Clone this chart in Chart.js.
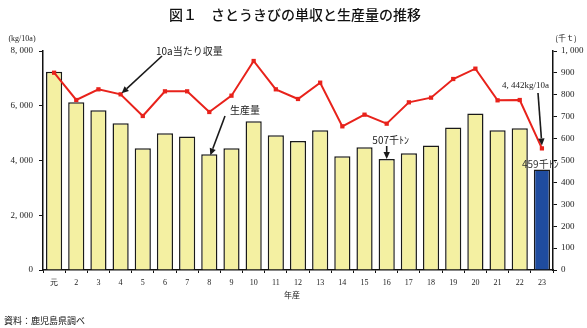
<!DOCTYPE html>
<html lang="ja">
<head>
<meta charset="utf-8">
<script src="https://cdn.jsdelivr.net/npm/chart.js@4/dist/chart.umd.min.js"></script>
<style>
  html, body { margin: 0; padding: 0; background: #ffffff; }
  #wrap { width: 587px; height: 328px; position: relative; }
</style>
</head>
<body>
<div id="wrap"><canvas id="c" width="587" height="328"></canvas></div>
<script>
// 年産（平成元年～23年）
const years = ['元','2','3','4','5','6','7','8','9','10','11','12','13','14','15','16','17','18','19','20','21','22','23'];
// 生産量（千t）
const production = [905, 766, 729, 670, 556, 624, 610, 528, 556, 679, 615, 589, 638, 519, 560, 507, 533, 569, 651, 715, 638, 647, 459];
// 10a当たり収量（kg/10a）
const yieldPer10a = [7207, 6210, 6600, 6417, 5626, 6527, 6527, 5772, 6368, 7635, 6600, 6247, 6843, 5248, 5674, 5345, 6125, 6295, 6977, 7355, 6198, 6210, 4442];

const barFill = production.map((v, i) => i === production.length - 1 ? '#1f4c9f' : '#f4f0a2');

const SERIF = '"Liberation Serif", "DejaVu Serif", serif';
const JP = '"Noto Sans CJK JP", "Noto Sans", sans-serif';

function fmt(v) {
  const s = Math.round(v).toString();
  return s.length > 3 ? s.slice(0, s.length - 3) + ', ' + s.slice(-3) : s;
}

function arrow(ctx, x1, y1, x2, y2) {
  const ang = Math.atan2(y2 - y1, x2 - x1);
  const head = 7, hw = 3.2;
  const bx = x2 - head * Math.cos(ang), by = y2 - head * Math.sin(ang);
  ctx.save();
  ctx.strokeStyle = '#1a1a1a';
  ctx.fillStyle = '#1a1a1a';
  ctx.lineWidth = 1.6;
  ctx.beginPath();
  ctx.moveTo(x1, y1);
  ctx.lineTo(bx, by);
  ctx.stroke();
  ctx.beginPath();
  ctx.moveTo(x2, y2);
  ctx.lineTo(bx + hw * Math.sin(ang), by - hw * Math.cos(ang));
  ctx.lineTo(bx - hw * Math.sin(ang), by + hw * Math.cos(ang));
  ctx.closePath();
  ctx.fill();
  ctx.restore();
}

const decorations = {
  id: 'decorations',
  afterDraw(chart) {
    const ctx = chart.ctx;
    const xs = chart.scales.x, yl = chart.scales.y, yr = chart.scales.y1;
    ctx.save();
    // 表題
    ctx.fillStyle = '#111';
    ctx.font = '500 14px ' + JP;
    ctx.textAlign = 'center';
    ctx.textBaseline = 'middle';
    ctx.fillText('図１　さとうきびの単収と生産量の推移', 295, 15);

    // 軸の単位
    ctx.font = '8px ' + SERIF;
    ctx.fillStyle = '#222';
    ctx.fillText('(kg/10a)', 22, 39);
    ctx.font = '8px ' + JP;
    ctx.fillText('(千ｔ)', 566, 38);

    // 横軸タイトル
    ctx.font = '8px ' + JP;
    ctx.fillText('年産', 292, 295);

    // 資料
    ctx.textAlign = 'left';
    ctx.font = '9px ' + JP;
    ctx.fillStyle = '#111';
    ctx.fillText('資料：鹿児島県調べ', 4, 321);

    // 注記：10a当たり収量
    const p4x = xs.getPixelForValue(3), p4y = yl.getPixelForValue(yieldPer10a[3]);
    ctx.font = '10px ' + JP;
    ctx.fillStyle = '#222';
    ctx.textAlign = 'left';
    ctx.fillText('10a当たり収量', 156, 51);
    arrow(ctx, 162, 56, p4x + 1, p4y - 1);

    // 注記：生産量
    const b8x = xs.getPixelForValue(7), b8y = yr.getPixelForValue(production[7]);
    ctx.fillText('生産量', 230, 110);
    arrow(ctx, 225, 116, b8x + 1, b8y + 1);

    // 注記：平成16年の生産量
    const b16x = xs.getPixelForValue(15), b16y = yr.getPixelForValue(production[15]);
    ctx.textAlign = 'center';
    ctx.fillText(production[15] + '千ﾄﾝ', b16x + 4, 140);
    arrow(ctx, b16x, 146, b16x, b16y);

    // 注記：平成23年
    const l23x = xs.getPixelForValue(22), l23y = yl.getPixelForValue(yieldPer10a[22]);
    ctx.font = '9px ' + SERIF;
    ctx.textAlign = 'left';
    ctx.fillText(fmt(yieldPer10a[22]) + 'kg/10a', 502, 86);
    arrow(ctx, 538, 93, l23x, l23y - 3);

    const b23y = yr.getPixelForValue(production[22]);
    ctx.font = '10px ' + JP;
    ctx.fillStyle = '#333';
    ctx.fillText(production[22] + '千ﾄﾝ', 522, b23y - 5);
    ctx.restore();
  }
};

new Chart(document.getElementById('c'), {
  data: {
    labels: years,
    datasets: [
      {
        type: 'line',
        label: '10a当たり収量',
        data: yieldPer10a,
        yAxisID: 'y',
        borderColor: '#e8221b',
        backgroundColor: '#e8221b',
        borderWidth: 2,
        pointStyle: 'rect',
        pointRadius: 3,
        pointBorderWidth: 0,
        tension: 0,
        order: 0
      },
      {
        type: 'bar',
        label: '生産量',
        data: production,
        yAxisID: 'y1',
        backgroundColor: barFill,
        borderColor: '#1a1a1a',
        borderWidth: 1.5,
        barPercentage: 0.73,
        categoryPercentage: 1.0,
        order: 1
      }
    ]
  },
  options: {
    responsive: false,
    animation: false,
    devicePixelRatio: 1,
    layout: { padding: { top: 51, left: 0, right: 0, bottom: 0 } },
    plugins: { legend: { display: false }, tooltip: { enabled: false }, title: { display: false } },
    scales: {
      x: {
        offset: true,
        grid: { display: true, drawOnChartArea: false, offset: true, tickLength: 3, color: '#111', lineWidth: 1 },
        border: { display: true, color: '#111', width: 1.5 },
        ticks: { font: { family: SERIF, size: 8 }, color: '#222', padding: 5, maxRotation: 0, autoSkip: false },
        afterFit(s) { s.height = 58; }
      },
      y: {
        position: 'left',
        min: 0, max: 8000,
        grid: { display: true, drawOnChartArea: false, tickLength: 4, color: '#111', lineWidth: 1 },
        border: { display: true, color: '#111', width: 1.5 },
        ticks: { stepSize: 2000, font: { family: SERIF, size: 9 }, color: '#222', padding: 6, callback: v => fmt(v) },
        afterFit(s) { s.width = 43; }
      },
      y1: {
        position: 'right',
        min: 0, max: 1000,
        grid: { display: true, drawOnChartArea: false, tickLength: 4, color: '#111', lineWidth: 1 },
        border: { display: true, color: '#111', width: 1.5 },
        ticks: { stepSize: 100, font: { family: SERIF, size: 9 }, color: '#222', padding: 4, callback: v => fmt(v) },
        afterFit(s) { s.width = 34; }
      }
    }
  },
  plugins: [decorations]
});
</script>
</body>
</html>
